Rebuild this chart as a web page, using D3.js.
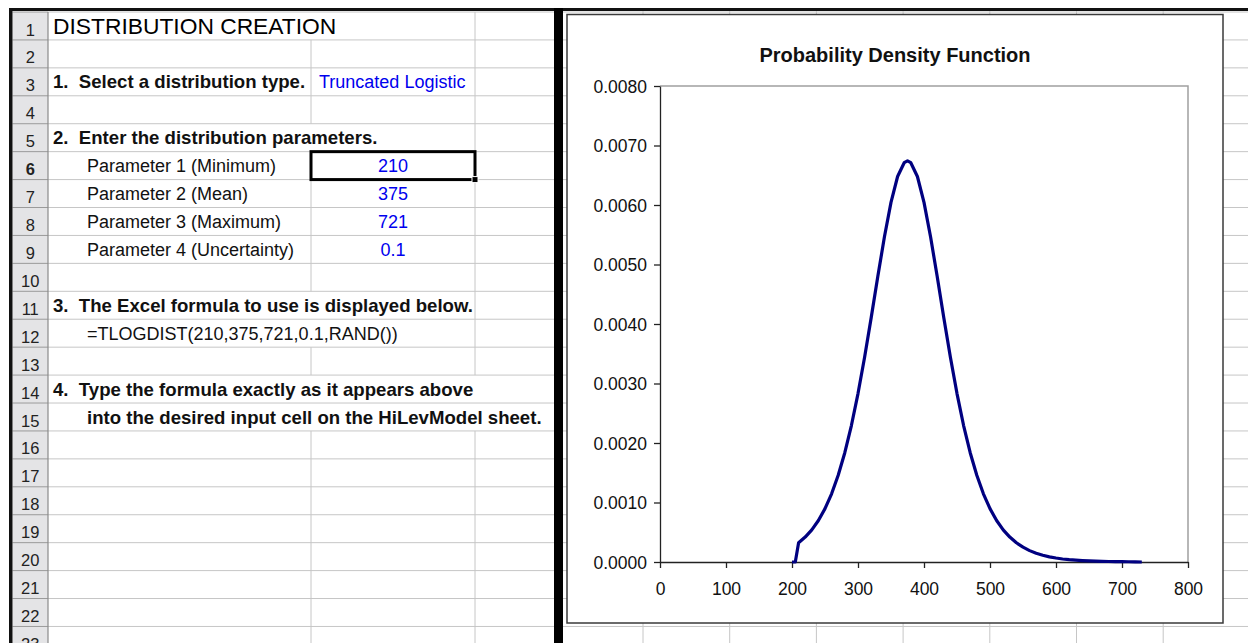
<!DOCTYPE html>
<html>
<head>
<meta charset="utf-8">
<script src="https://cdn.jsdelivr.net/npm/d3@7"></script>
<style>
  html, body { margin: 0; padding: 0; background: #ffffff; }
  svg { display: block; }
  text { font-family: "Liberation Sans", Arial, sans-serif; }
</style>
</head>
<body>
<svg id="sheet" width="1248" height="643"></svg>
<script>
// ---- Worksheet content ----
const rowNumbers = d3.range(1, 24);
const titleText = "DISTRIBUTION CREATION";
const stepTexts = [
  { row: 3, text: "1.  Select a distribution type." },
  { row: 5, text: "2.  Enter the distribution parameters." },
  { row: 11, text: "3.  The Excel formula to use is displayed below." },
  { row: 14, text: "4.  Type the formula exactly as it appears above" },
  { row: 15, text: "into the desired input cell on the HiLevModel sheet.", indent: true }
];
const distributionType = "Truncated Logistic";
const paramLabels = ["Parameter 1 (Minimum)", "Parameter 2 (Mean)", "Parameter 3 (Maximum)", "Parameter 4 (Uncertainty)"];
const paramValues = ["210", "375", "721", "0.1"];
const formulaText = "=TLOGDIST(210,375,721,0.1,RAND())";

// ---- Chart data: probability density curve ----
const chartTitle = "Probability Density Function";
const pdfX = [200, 205, 210, 220, 230, 240, 250, 260, 270, 280, 290, 300, 310, 320, 330, 340, 350, 360, 370, 375,
              380, 390, 400, 410, 420, 430, 440, 450, 460, 470, 480, 490, 500, 510, 520, 530, 540, 550, 560, 570,
              580, 590, 600, 610, 620, 630, 640, 650, 660, 670, 680, 690, 700, 710, 720, 730];
const pdfY = [0, 0, 0.000323, 0.000419, 0.000541, 0.000698, 0.000897, 0.001146, 0.001457, 0.001837, 0.002294,
              0.002831, 0.003441, 0.004107, 0.004797, 0.005462, 0.006044, 0.006479, 0.006711, 0.006741,
              0.006711, 0.006479, 0.006044, 0.005462, 0.004797, 0.004107, 0.003441, 0.002831, 0.002294, 0.001837,
              0.001457, 0.001146, 0.000897, 0.000698, 0.000541, 0.000419, 0.000323, 0.000249, 0.000191, 0.000147,
              0.000113, 0.000087, 0.000067, 0.000051, 0.000039, 0.000030, 0.000023, 0.000018, 0.000014, 0.000010,
              0.000008, 0.000006, 0.000005, 0.000004, 0.000003, 0];
const xTickValues = [0, 100, 200, 300, 400, 500, 600, 700, 800];
const yTickValues = [0, 0.001, 0.002, 0.003, 0.004, 0.005, 0.006, 0.007, 0.008];

const svg = d3.select("#sheet");
const W = 1248, H = 643;

// Row geometry (shared by both panes)
const rowH = 27.93;
const rowTop = n => 12 + rowH * (n - 1);

// Column edges of the left pane
const hdrL = 12.5, hdrR = 48, colC = 311, colD = 475, splitL = 554, splitR = 563;
// Column edges of the right pane
const rightCols = d3.range(0, 8).map(k => 643 + 86.7 * k);

const grid = "#c6c6c6";

// ---------- Left pane ----------
const left = svg.append("g");
// horizontal grid lines
left.selectAll("line.row").data(d3.range(1, 25)).join("line")
  .attr("x1", hdrR).attr("x2", splitL)
  .attr("y1", d => rowTop(d)).attr("y2", d => rowTop(d))
  .attr("stroke", grid).attr("stroke-width", 1);

// vertical grid lines, skipped where text spills across
const spill = { 1: [colC], 5: [colC], 11: [colC], 12: [colC], 14: [colC, colD], 15: [colC, colD] };
[colC, colD].forEach(x => {
  rowNumbers.forEach(r => {
    if (spill[r] && spill[r].includes(x)) return;
    left.append("line")
      .attr("x1", x).attr("x2", x)
      .attr("y1", rowTop(r)).attr("y2", Math.min(rowTop(r + 1), H))
      .attr("stroke", grid).attr("stroke-width", 1);
  });
});

// row header column
left.append("rect").attr("x", hdrL).attr("y", 12).attr("width", hdrR - hdrL).attr("height", H - 12)
  .attr("fill", "#e4e4e6");
left.selectAll("line.hdr").data(d3.range(1, 25)).join("line")
  .attr("x1", hdrL).attr("x2", hdrR)
  .attr("y1", d => rowTop(d)).attr("y2", d => rowTop(d))
  .attr("stroke", "#9a9a9a").attr("stroke-width", 1);
left.append("line").attr("x1", hdrR).attr("x2", hdrR).attr("y1", 12).attr("y2", H)
  .attr("stroke", "#8a8a8a").attr("stroke-width", 1.2);
left.selectAll("text.rn").data(rowNumbers).join("text")
  .attr("x", (hdrL + hdrR) / 2).attr("y", d => rowTop(d) + 23.5)
  .attr("text-anchor", "middle").attr("font-size", 16.5)
  .attr("font-weight", d => d === 6 ? "bold" : "normal")
  .attr("fill", "#222").text(d => d);

// cell text
left.append("text").attr("x", 53).attr("y", rowTop(1) + 21.5)
  .attr("font-size", 22.8).attr("fill", "#000").text(titleText);
left.selectAll("text.step").data(stepTexts).join("text")
  .attr("x", d => d.indent ? 87 : 53).attr("y", d => rowTop(d.row) + 20.6)
  .attr("font-size", 18.6).attr("font-weight", "bold").attr("fill", "#111")
  .attr("xml:space", "preserve").text(d => d.text);
left.append("text").attr("x", 319).attr("y", rowTop(3) + 20.6)
  .attr("font-size", 18).attr("fill", "#0000ee").text(distributionType);
left.selectAll("text.pl").data(paramLabels).join("text")
  .attr("x", 87).attr("y", (d, i) => rowTop(6 + i) + 20.6)
  .attr("font-size", 18).attr("fill", "#111").text(d => d);
left.selectAll("text.pv").data(paramValues).join("text")
  .attr("x", (colC + colD) / 2).attr("y", (d, i) => rowTop(6 + i) + 20.6)
  .attr("text-anchor", "middle").attr("font-size", 18).attr("fill", "#0000ee").text(d => d);
left.append("text").attr("x", 87).attr("y", rowTop(12) + 20.6)
  .attr("font-size", 18).attr("fill", "#111").text(formulaText);

// active cell outline with fill handle
left.append("rect").attr("x", colC).attr("y", rowTop(6)).attr("width", colD - colC).attr("height", rowH)
  .attr("fill", "none").attr("stroke", "#000").attr("stroke-width", 3);
left.append("rect").attr("x", colD - 3).attr("y", rowTop(7) - 3).attr("width", 6).attr("height", 6)
  .attr("fill", "#000").attr("stroke", "#fff").attr("stroke-width", 1);

// ---------- Right pane grid ----------
const right = svg.append("g");
right.selectAll("line.row").data(d3.range(1, 25)).join("line")
  .attr("x1", splitR).attr("x2", W)
  .attr("y1", d => rowTop(d)).attr("y2", d => rowTop(d))
  .attr("stroke", grid).attr("stroke-width", 1);
right.selectAll("line.col").data(rightCols).join("line")
  .attr("x1", d => d).attr("x2", d => d).attr("y1", 10).attr("y2", H)
  .attr("stroke", grid).attr("stroke-width", 1);

// window frame lines
svg.append("rect").attr("x", 9).attr("y", 8).attr("width", W - 9).attr("height", 3).attr("fill", "#111");
svg.append("rect").attr("x", 9).attr("y", 8).attr("width", 3.5).attr("height", H - 8).attr("fill", "#111");
svg.append("rect").attr("x", splitL).attr("y", 8).attr("width", splitR - splitL).attr("height", H - 8).attr("fill", "#000");

// ---------- Embedded chart ----------
const chart = { x: 567, y: 14.5, w: 656, h: 608.5 };
const plot = { left: 660, right: 1188, top: 86, bottom: 562 };

const cg = svg.append("g");
cg.append("rect").attr("x", chart.x).attr("y", chart.y).attr("width", chart.w).attr("height", chart.h)
  .attr("fill", "#ffffff").attr("stroke", "#3a3a3a").attr("stroke-width", 1.5);

cg.append("text").attr("x", chart.x + chart.w / 2).attr("y", 61.5)
  .attr("text-anchor", "middle").attr("font-size", 20).attr("font-weight", "bold")
  .attr("fill", "#111").text(chartTitle);

const x = d3.scaleLinear().domain([0, 800]).range([plot.left, plot.right]);
const y = d3.scaleLinear().domain([0, 0.008]).range([plot.bottom, plot.top]);

// plot area frame (top and right edges)
cg.append("path")
  .attr("d", `M${plot.left},${plot.top}H${plot.right}V${plot.bottom}`)
  .attr("fill", "none").attr("stroke", "#a0a0a0").attr("stroke-width", 1.5);

const xAxis = d3.axisBottom(x).tickValues(xTickValues).tickSize(6).tickSizeOuter(0).tickFormat(d3.format("d"));
const yAxis = d3.axisLeft(y).tickValues(yTickValues).tickSize(6).tickSizeOuter(0).tickFormat(d3.format(".4f"));

const gx = cg.append("g").attr("transform", `translate(0,${plot.bottom})`).call(xAxis);
const gy = cg.append("g").attr("transform", `translate(${plot.left},0)`).call(yAxis);
[gx, gy].forEach(g => {
  g.select(".domain").attr("stroke", "#222").attr("stroke-width", 1.3);
  g.selectAll(".tick line").attr("stroke", "#222").attr("stroke-width", 1.3);
  g.selectAll(".tick text").attr("font-family", "'Liberation Sans', Arial, sans-serif")
    .attr("font-size", 17.5).attr("fill", "#111");
});
gx.selectAll(".tick text").attr("dy", null).attr("y", 33);
gy.selectAll(".tick text").attr("x", -13).attr("dy", "0.36em");

// density curve
const pts = pdfX.map((v, i) => [v, pdfY[i]]);
const line = d3.line().x(d => x(d[0])).y(d => y(d[1]));
cg.append("path").datum(pts).attr("d", line)
  .attr("fill", "none").attr("stroke", "#000080").attr("stroke-width", 3.2)
  .attr("stroke-linejoin", "round");
</script>
</body>
</html>
